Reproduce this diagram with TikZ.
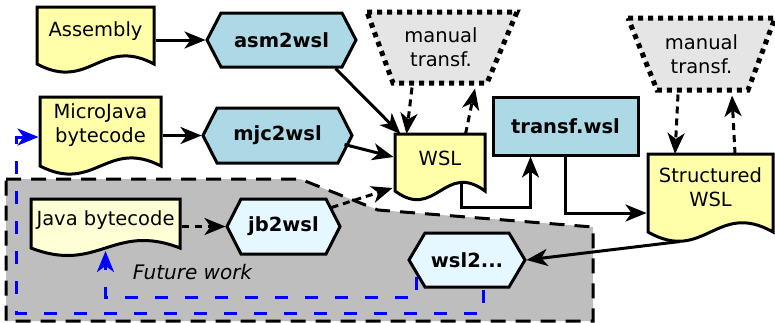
\documentclass[tikz,border=0pt]{standalone}
\usepackage{fontspec}
\setmainfont{DejaVu Sans}
\usetikzlibrary{arrows.meta,calc}

\definecolor{docyellow}{HTML}{FFFFAA}
\definecolor{javayellow}{HTML}{FFFFD5}
\definecolor{toolblue}{HTML}{ADD8E6}
\definecolor{futureblue}{HTML}{E5F8FF}
\definecolor{manualgray}{HTML}{E5E5E5}
\definecolor{regiongray}{HTML}{BEBEBE}

% document outline with a wavy bottom: x0, y0, x1, bottom y, wave depth
\newcommand\docpath[5]{(#1,#2) -- (#3,#2) -- (#3,#4)
  .. controls ({#1+0.55*(#3-#1)},{#4-#5}) and ({#1+0.45*(#3-#1)},{#4+#5}) .. (#1,#4) -- cycle}
% hexagon pointed left and right: x0, y0, x1, y1, corner inset
\newcommand\hexpath[5]{(#1,{(#2+#4)/2}) -- ({#1+#5},#2) -- ({#3-#5},#2) -- (#3,{(#2+#4)/2})
  -- ({#3-#5},#4) -- ({#1+#5},#4) -- cycle}

\begin{document}
\begin{tikzpicture}[x=1pt,y=-1pt,line width=3pt,
  font=\fontsize{19.5}{24}\selectfont,
  bigtip/.style={-{Stealth[length=21pt,width=17pt,inset=6pt]}},
  solidarrow/.style={bigtip},
  dotarrow/.style={bigtip, dash pattern=on 7pt off 5pt},
  futurearrow/.style={draw=blue, bigtip, dash pattern=on 13pt off 17pt},
  txt/.style={inner sep=0pt, align=center},
  toolname/.style={inner sep=0pt, font=\fontsize{19.5}{24}\selectfont\bfseries},
  docshape/.style={draw=black, fill=docyellow},
  toolshape/.style={draw=black, fill=toolblue},
  futureshape/.style={draw=black, fill=futureblue},
  manualshape/.style={draw=black, fill=manualgray, line width=5pt, dash pattern=on 5pt off 5pt},
]
\useasboundingbox (0,0) rectangle (775,322);

% future work region
\filldraw[fill=regiongray, draw=black, dash pattern=on 15pt off 10pt]
  (6,179) -- (300,179) -- (378,210) -- (593,227) -- (593,321) -- (6,321) -- cycle;

% documents
\filldraw[docshape] \docpath{37}{7}{154}{64}{28};
\filldraw[docshape] \docpath{40}{97}{161}{166}{28};
\filldraw[docshape] \docpath{395}{134}{485}{191}{30};
\filldraw[docshape] \docpath{648}{154}{773}{232}{32};
\filldraw[docshape, fill=javayellow] \docpath{31}{199}{180}{248}{26};

% tools
\filldraw[toolshape] \hexpath{207}{13}{356}{67}{14};
\filldraw[toolshape] \hexpath{203}{108}{352}{163}{14};
\filldraw[futureshape] \hexpath{227}{199}{340}{254}{14};
\filldraw[futureshape] \hexpath{409}{233}{525}{287}{16};
\filldraw[toolshape] (493,97) rectangle (638,155);

% manual transformation steps
\filldraw[manualshape] (367,12) -- (517,12) -- (487,83) -- (393,83) -- cycle;
\filldraw[manualshape] (628,18) -- (775,18) -- (748,90) -- (657,90) -- cycle;

% labels
\node[txt, minimum width=117pt] (assembly) at (95.5,31) {Assembly};
\node[txt, minimum width=121pt] (micro) at (100.5,125) {MicroJava\\bytecode};
\node[txt, minimum width=90pt] (wsl) at (440,158) {WSL};
\node[txt, minimum width=125pt] (structured) at (710.5,187.5) {Structured\\WSL};
\node[txt, minimum width=149pt] (java) at (105.5,220) {Java bytecode};
\node[toolname, minimum width=149pt, minimum height=54pt] (asm) at (281.5,40) {asm2wsl};
\node[toolname, minimum width=149pt, minimum height=55pt] (mjc) at (277.5,135.5) {mjc2wsl};
\node[toolname, minimum width=113pt, minimum height=55pt] (jb) at (283.5,226.5) {jb2wsl};
\node[toolname, minimum width=116pt, minimum height=54pt] (wsltwo) at (467,260) {wsl2...};
\node[toolname, minimum width=145pt, minimum height=58pt] (transf) at (565.5,126) {transf.wsl};
\node[txt, minimum width=150pt, minimum height=71pt] (manA) at (441,47.5) {manual\\transf.};
\node[txt, minimum width=147pt, minimum height=72pt] (manB) at (701.5,54) {manual\\transf.};
\node[txt, font=\fontsize{20}{24}\selectfont\itshape] (future) at (192.5,272) {Future work};

% connectors
\draw[solidarrow] (assembly.east |- asm.west) -- (asm.west);
\draw[solidarrow] (micro.east |- mjc.west) -- (mjc.west);
\draw[solidarrow] ($(asm.south east)+(-22,0)$) -- ($(wsl.west)+(7,-24)$);
\draw[solidarrow] ($(mjc.east)+(-9,9)$) -- ($(wsl.west)+(0,-1)$);
\draw[dotarrow] ($(manA.south)+(-29,3)$) -- ($(wsl.west)+(13,-24)$);
\draw[dotarrow] ($(wsl.west)+(72,-24)$) -- ($(manA.south)+(34,4)$);
\draw[solidarrow] ($(wsl.west)+(68,26)$) -- ++(0,23) -| ($(transf.south)+(-35,0)$);
\draw[solidarrow] (transf.south) |- ($(structured.west)+(0,25.5)$);
\draw[dotarrow] ($(manB.south)+(-23.5,3)$) -- ($(structured.center)+(-35.5,-33.5)$);
\draw[dotarrow] ($(structured.center)+(24.5,-33.5)$) -- ($(manB.south)+(30.5,4)$);
\draw[solidarrow] ($(structured.center)+(-30.5,54)$) -- (wsltwo.east);
\draw[dotarrow, dash pattern=on 7pt off 6pt] (java.east |- jb.west) -- (jb.west);
\draw[dotarrow] ($(jb.north east)+(-10,10)$) -- ($(wsl.west)+(-1,30)$);
\draw[futurearrow] ($(wsltwo.south west)+(9,-12)$) -- ++(0,21) -| ($(java.center)+(0,31)$);
\draw[futurearrow] ($(wsltwo.south)+(16,1)$) -- ++(0,24) -| ($(micro.west)+(-22,12)$)
  -- ($(micro.west)+(0,12)$);
\end{tikzpicture}
\end{document}
